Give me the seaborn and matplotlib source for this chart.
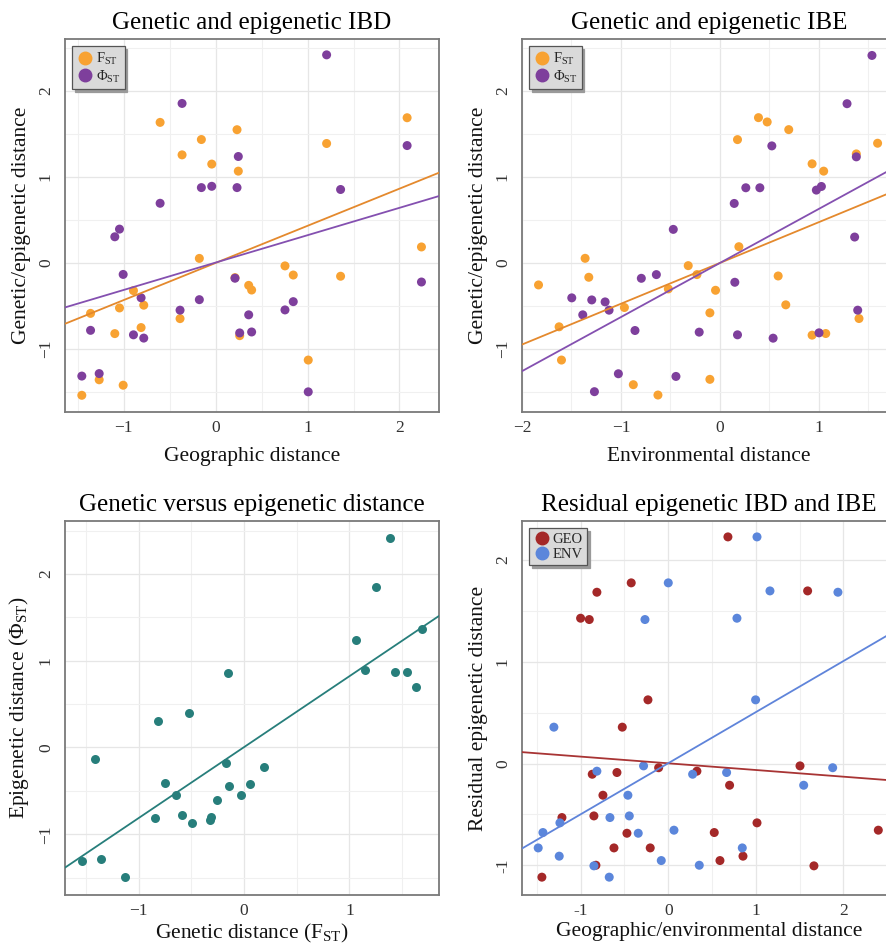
import matplotlib
matplotlib.use('Agg')
import matplotlib.pyplot as plt
import matplotlib.ticker as mticker
from matplotlib.lines import Line2D
import pandas as pd
import seaborn as sns

# pairwise distances between populations (28 pairs, standardised)
geo = [-0.605, 0.232, -0.156, -0.366, -0.043, 0.246, 2.083, 1.207, 2.239, -0.178,
       0.754, 0.844, 1.359, 0.210, 0.359, 0.391, -0.895, -1.362, -1.047, -0.783,
       -0.388, -0.812, -1.098, 0.261, 1.007, -1.268, -1.007, -1.457]
fst = [1.632, 1.547, 1.433, 1.255, 1.148, 1.066, 1.686, 1.387, 0.186, 0.053,
       -0.034, -0.140, -0.154, -0.170, -0.260, -0.314, -0.321, -0.585, -0.522, -0.490,
       -0.646, -0.750, -0.820, -0.844, -1.127, -1.356, -1.419, -1.536]
phi = [0.693, 0.875, 0.875, 1.852, 0.890, 1.236, 1.363, 2.416, -0.221, -0.426,
       -0.545, -0.449, 0.853, -0.177, -0.602, -0.801, -0.834, -0.782, 0.393, -0.872,
       -0.548, -0.404, 0.304, -0.812, -1.496, -1.284, -0.133, -1.313]

# IBE panel: environmental distance for each genetic / epigenetic value
ibe_env_fst = [0.390, 0.478, 0.696, 0.178, 1.594, 1.379, 0.932, 1.049, 0.192, -1.362,
               -0.320, -1.325, -0.232, 0.589, -1.833, -0.521, -0.044, -0.965, 0.666, -0.101,
               1.406, -1.625, 0.932, 1.070, -1.601, -0.101, -0.875, -0.626]
ibe_fst = [1.687, 1.637, 1.548, 1.432, 1.390, 1.266, 1.151, 1.066, 0.189, 0.054,
           -0.031, -0.166, -0.135, -0.151, -0.255, -0.301, -0.317, -0.517, -0.486, -0.579,
           -0.645, -0.741, -0.838, -0.819, -1.127, -1.351, -1.413, -1.533]
ibe_env_phi = [1.537, 1.285, 0.525, 1.379, 0.262, 0.404, 1.026, 0.975, 0.145, -0.471,
               1.362, -0.642, -0.794, 0.151, -1.497, -1.295, -1.160, -1.120, 1.393, -1.386,
               -0.858, -0.209, 0.178, 0.538, 1.002, -1.026, -0.444, -1.268]
ibe_phi = [2.409, 1.849, 1.359, 1.232, 0.873, 0.873, 0.888, 0.846, 0.691, 0.390,
           0.301, -0.135, -0.178, -0.224, -0.405, -0.429, -0.452, -0.548, -0.548, -0.602,
           -0.784, -0.803, -0.834, -0.873, -0.811, -1.286, -1.317, -1.494]

# residual epigenetic distance vs geographic (GEO) and environmental (ENV) distance
resid_y = [2.224, 1.773, 1.694, 1.681, 1.426, 1.413, 0.625, 0.357, -0.023, -0.041,
           -0.075, -0.088, -0.105, -0.213, -0.311, -0.514, -0.530, -0.582, -0.654, -0.677,
           -0.684, -0.828, -0.828, -0.909, -0.952, -0.998, -1.004, -1.115]
resid_geo = [0.681, -0.423, 1.591, -0.815, -1.001, -0.902, -0.232, -0.525, 1.504, -0.110,
             0.327, -0.586, -0.868, 0.700, -0.746, -0.849, -1.214, 1.013, 2.398, 0.525,
             -0.472, -0.620, -0.206, 0.853, 0.590, -0.826, 1.663, -1.443]
resid_env = [1.013, 0.000, 1.161, 1.937, 0.784, -0.266, 0.997, -1.306, -0.282, 1.877,
             -0.815, 0.666, 0.278, 1.546, -0.461, -0.445, -0.666, -1.237, 0.065, -1.431,
             -0.343, -1.485, 0.845, -1.245, -0.080, 0.354, -0.849, -0.674]

FST_LBL = r'$\mathregular{F_{ST}}$'
PHI_LBL = r'$\mathregular{\Phi_{ST}}$'
pt_colors = {FST_LBL: '#F8A232', PHI_LBL: '#7E3F9C', 'GEO': '#A42828', 'ENV': '#5B86DB'}
ln_colors = {FST_LBL: '#E4892D', PHI_LBL: '#8450B0', 'GEO': '#A83434', 'ENV': '#5F84DA'}
teal = '#277E7B'

sns.set_theme(style='white')
plt.rcParams['font.family'] = ['Liberation Serif', 'DejaVu Serif']
plt.rcParams['mathtext.fontset'] = 'custom'
plt.rcParams['mathtext.rm'] = 'Liberation Serif'

fig = plt.figure(figsize=(8.87, 9.49), dpi=100)
W, H = 887, 949


def add_ax(left, top, right, bottom):
    return fig.add_axes([left / W, 1 - bottom / H, (right - left) / W, (bottom - top) / H])


def draw(ax, df, x, y, hue, xlim, ylim, xticks, yticks):
    ax.set_xlim(xlim)
    ax.set_ylim(ylim)
    sns.scatterplot(data=df, x=x, y=y, hue=hue, palette=pt_colors if hue else None,
                    color=None if hue else teal, s=42, linewidth=0, legend=False,
                    ax=ax, zorder=3)
    groups = df.groupby(hue, sort=False) if hue else [(None, df)]
    for name, sub in groups:
        sns.regplot(data=sub, x=x, y=y, scatter=False, ci=None, truncate=False,
                    color=ln_colors[name] if name else teal,
                    line_kws={'lw': 1.3, 'zorder': 4}, ax=ax)
    ax.set_xlim(xlim)
    ax.set_ylim(ylim)
    ax.set_xticks(xticks)
    ax.set_yticks(yticks)
    ax.xaxis.set_minor_locator(mticker.MultipleLocator(0.5))
    ax.yaxis.set_minor_locator(mticker.MultipleLocator(0.5))
    ax.grid(which='major', color='#e6e6e6', lw=0.9)
    ax.grid(which='minor', color='#f0f0f0', lw=0.8)
    ax.set_axisbelow(True)
    for sp in ax.spines.values():
        sp.set_color('#7a7a7a')
        sp.set_linewidth(1.3)
    ax.tick_params(which='major', length=3, width=0.8, color='#666666',
                   labelsize=12.5, labelcolor='#333333', pad=3)
    ax.tick_params(axis='y', pad=5)
    ax.tick_params(which='minor', length=0)
    plt.setp(ax.get_yticklabels(), rotation=90, va='center')


def legend(ax, labels):
    handles = [Line2D([], [], marker='o', ls='', ms=9, color=pt_colors[l], label=l)
               for l in labels]
    leg = ax.legend(handles=handles, loc='upper left', frameon=True, fancybox=False,
                    shadow={'color': '#9a9a9a', 'alpha': 1}, fontsize=10.5,
                    handletextpad=0.1, borderpad=0.3, labelspacing=0.12,
                    handlelength=1.2, borderaxespad=0.5)
    leg.get_frame().set_facecolor('#dadada')
    leg.get_frame().set_edgecolor('#555555')
    leg.get_frame().set_linewidth(0.9)


def labels(ax, title, xlabel, ylabel, xpad=8):
    ax.set_title(title, fontsize=18, pad=7, color='black')
    ax.set_xlabel(xlabel, fontsize=15.5, labelpad=xpad, color='#111111')
    ax.set_ylabel(ylabel, fontsize=15.5, labelpad=5, color='#111111')


# top left: IBD
ibd = pd.concat([
    pd.DataFrame({'x': geo, 'y': fst, 'm': FST_LBL}),
    pd.DataFrame({'x': geo, 'y': phi, 'm': PHI_LBL}),
])
ax1 = add_ax(65, 39, 439, 412)
draw(ax1, ibd, 'x', 'y', 'm', (-1.64, 2.43), (-1.73, 2.60), [-1, 0, 1, 2], [-1, 0, 1, 2])
legend(ax1, [FST_LBL, PHI_LBL])
labels(ax1, 'Genetic and epigenetic IBD', 'Geographic distance', 'Genetic/epigenetic distance')

# top right: IBE
ibe = pd.concat([
    pd.DataFrame({'x': ibe_env_fst, 'y': ibe_fst, 'm': FST_LBL}),
    pd.DataFrame({'x': ibe_env_phi, 'y': ibe_phi, 'm': PHI_LBL}),
])
ax2 = add_ax(522, 39, 896, 412)
draw(ax2, ibe, 'x', 'y', 'm', (-2.0, 1.78), (-1.73, 2.60), [-2, -1, 0, 1], [-1, 0, 1, 2])
legend(ax2, [FST_LBL, PHI_LBL])
labels(ax2, 'Genetic and epigenetic IBE', 'Environmental distance', 'Genetic/epigenetic distance')

# bottom left: FST vs PhiST
gve = pd.DataFrame({'x': fst, 'y': phi})
ax3 = add_ax(65, 521, 439, 895)
draw(ax3, gve, 'x', 'y', None, (-1.70, 1.85), (-1.70, 2.61), [-1, 0, 1], [-1, 0, 1, 2])
labels(ax3, 'Genetic versus epigenetic distance', 'Genetic distance (' + FST_LBL + ')',
       'Epigenetic distance (' + PHI_LBL + ')', xpad=2)

# bottom right: residual IBD / IBE
res = pd.concat([
    pd.DataFrame({'x': resid_geo, 'y': resid_y, 'm': 'GEO'}),
    pd.DataFrame({'x': resid_env, 'y': resid_y, 'm': 'ENV'}),
])
ax4 = add_ax(522, 521, 896, 895)
draw(ax4, res, 'x', 'y', 'm', (-1.67, 2.60), (-1.29, 2.38), [-1, 0, 1, 2], [-1, 0, 1, 2])
ax4.xaxis.set_major_formatter(mticker.FuncFormatter(lambda v, p: '%d' % v))
ax4.yaxis.set_major_formatter(mticker.FuncFormatter(lambda v, p: '%d' % v))
plt.setp(ax4.get_yticklabels(), rotation=90, va='center')
legend(ax4, ['GEO', 'ENV'])
labels(ax4, 'Residual epigenetic IBD and IBE', 'Geographic/environmental distance',
       'Residual epigenetic distance', xpad=2)

fig.savefig('out.png', dpi=100, facecolor='white')
